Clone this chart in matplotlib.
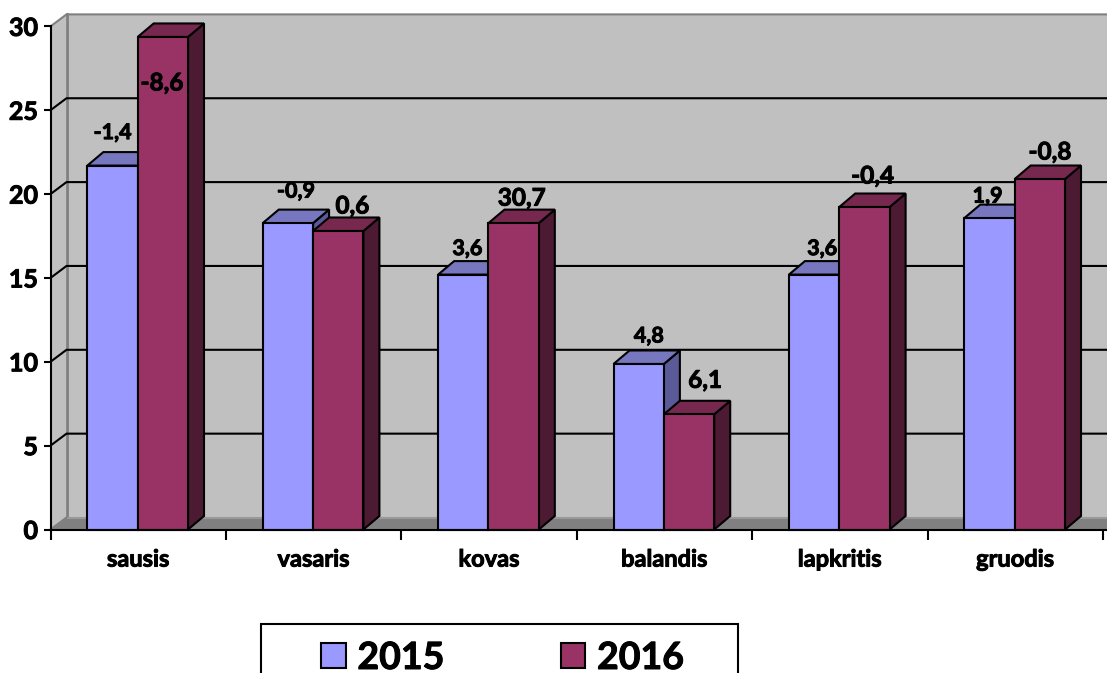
import numpy as np
import matplotlib
matplotlib.use('Agg')
import matplotlib.pyplot as plt
import matplotlib.patheffects as pe
from matplotlib.patches import Polygon, Patch, Rectangle
from matplotlib.text import Text

plt.rcParams['font.family'] = ['Lato', 'DejaVu Sans']
plt.rcParams['font.weight'] = 'bold'

months = ['sausis', 'vasaris', 'kovas', 'balandis', 'lapkritis', 'gruodis']
vals_2015 = [21.7, 18.27, 15.2, 9.87, 15.2, 18.57]
vals_2016 = [29.37, 17.8, 18.27, 6.87, 19.23, 20.9]
labels_2015 = ['-1,4', '-0,9', '3,6', '4,8', '3,6', '1,9']
labels_2016 = ['-8,6', '0,6', '30,7', '6,1', '-0,4', '-0,8']
y_ticks = [0, 5, 10, 15, 20, 25, 30]

W, H = 1107, 673
px_left, px_right = 50.5, 1107
px_bottom, px_top = 529.5, 26.4
cat_px = 175.4

fig = plt.figure(figsize=(W / 100, H / 100), dpi=100)
ax = fig.add_axes([px_left / W, 1 - px_bottom / H,
                   (px_right - px_left) / W, (px_bottom - px_top) / H])
ax.set_xlim(0, (px_right - px_left) / cat_px)
ax.set_ylim(0, 30)
ax.patch.set_visible(False)

# depth of the fake 3d box, in data units
px_per_val = (px_bottom - px_top) / 30
dx = 16 / cat_px
dy = 13.5 / px_per_val
wall_dy = 12 / px_per_val
xmax = ax.get_xlim()[1]


def poly(pts, color, edge='black', lw=1.5, z=1):
    ax.add_patch(Polygon(pts, closed=True, facecolor=color, edgecolor=edge,
                         linewidth=lw, zorder=z, clip_on=False, joinstyle='miter'))


# walls and floor
poly([(dx, wall_dy), (xmax, wall_dy), (xmax, 30 + wall_dy), (dx, 30 + wall_dy)], '#C0C0C0', 'none', 0)
poly([(0, 0), (dx, wall_dy), (dx, 30 + wall_dy), (0, 30)], '#C0C0C0', 'none', 0)
poly([(0, 0), (dx, wall_dy), (xmax, wall_dy), (xmax, 0)], '#808080', 'none', 0)
ax.plot([0, dx, xmax], [30, 30 + wall_dy, 30 + wall_dy], color='#808080', lw=1.5, clip_on=False, zorder=1)
ax.plot([dx, dx], [wall_dy, 30 + wall_dy], color='#808080', lw=2, clip_on=False, zorder=1)
ax.plot([dx, xmax], [wall_dy, wall_dy], color='#999999', lw=1.5, clip_on=False, zorder=1)

for t in y_ticks[1:-1]:
    ax.plot([0, dx, xmax], [t, t + wall_dy, t + wall_dy], color='black', lw=1.5, clip_on=False, zorder=1)
ax.plot([0, dx], [0, wall_dy], color='#808080', lw=1.5, clip_on=False, zorder=1)


def bar3d(x0, w, h, front, top, side):
    poly([(x0 + w, 0), (x0 + w + dx, dy), (x0 + w + dx, h + dy), (x0 + w, h)], side, z=2)
    poly([(x0, h), (x0 + dx, h + dy), (x0 + w + dx, h + dy), (x0 + w, h)], top, z=2)
    poly([(x0, 0), (x0, h), (x0 + w, h), (x0 + w, 0)], front, z=2)


bar_w = 0.287
offs_2015 = [(0, 33), (8, 32), (4, 26), (10, 28), (8, 26), (-2, 22)]
offs_2016 = [(-1, -46), (14, 25), (8, 25), (16, 34), (8, 31), (10, 27)]
for i in range(len(months)):
    c = i + 0.497
    bar3d(c - bar_w, bar_w, vals_2015[i], '#9999FF', '#7777BF', '#5A5A99')
    bar3d(c, bar_w, vals_2016[i], '#993366', '#77284F', '#4D1A33')
    ax.annotate(labels_2015[i], (c - bar_w / 2, vals_2015[i]),
                xytext=(offs_2015[i][0] * .72, offs_2015[i][1] * .72), textcoords='offset points',
                ha='center', va='center', fontsize=15.5, fontweight='bold', zorder=5)
    ax.annotate(labels_2016[i], (c + bar_w / 2, vals_2016[i]),
                xytext=(offs_2016[i][0] * .72, offs_2016[i][1] * .72), textcoords='offset points',
                ha='center', va='center', fontsize=17.5, fontweight='bold', zorder=5)

for s in ['top', 'right']:
    ax.spines[s].set_visible(False)
for s in ['left', 'bottom']:
    ax.spines[s].set_linewidth(1.5)
    ax.spines[s].set_zorder(4)

ax.set_yticks(y_ticks)
ax.tick_params(axis='y', length=5, width=1.5, pad=4, labelsize=18)
ax.set_xticks(np.arange(0, len(months) + 1))
ax.set_xticklabels([])
ax.tick_params(axis='x', which='major', length=7, width=1.5)
ax.set_xticks(np.arange(len(months)) + 0.5, minor=True)
ax.set_xticklabels(months, minor=True, fontsize=17, fontweight='bold')
ax.tick_params(axis='x', which='minor', length=0, pad=13)

# legend box runs past the bottom of the picture in the original
fig.add_artist(Rectangle((261 / W, -0.05), (738 - 261) / W, 1 - 624 / H + 0.05,
                         transform=fig.transFigure, facecolor='white',
                         edgecolor='black', linewidth=1.5))
handles = [Patch(facecolor='#9999FF', edgecolor='black', linewidth=1.5, label='2015'),
           Patch(facecolor='#993366', edgecolor='black', linewidth=1.5, label='2016')]
fig.legend(handles=handles, ncol=2, frameon=False, loc='upper left',
           bbox_to_anchor=(321 / W, 1 - 641 / H), borderpad=0, borderaxespad=0,
           handlelength=0.66, handleheight=0.66, handletextpad=0.31,
           columnspacing=3.1, prop={'family': 'Lato', 'weight': 'bold', 'size': 27})

# the original's text is heavier than Lato Bold
for t in fig.findobj(Text):
    t.set_path_effects([pe.withStroke(linewidth=0.7, foreground='black')])

fig.savefig('out.png', dpi=100)
